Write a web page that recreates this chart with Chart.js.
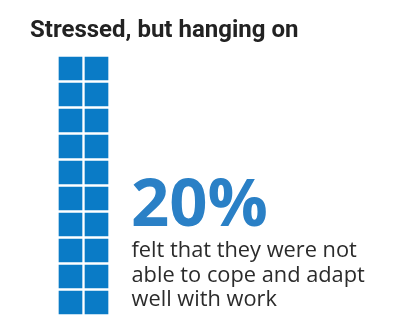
<!DOCTYPE html>
<html>
<head>
<meta charset="utf-8">
<script src="https://cdn.jsdelivr.net/npm/chart.js@4/dist/chart.umd.min.js"></script>
<style>
  html, body { margin: 0; padding: 0; background: #fff; }
  #wrap { position: relative; width: 416px; height: 328px; overflow: hidden; }
  #c { position: absolute; left: 0; top: 0; }
  .t { position: absolute; white-space: nowrap; }
  #title { left: 30px; top: 16.5px; font-family: Roboto, sans-serif; font-size: 24px; font-weight: 700; color: #222; line-height: 1; }
  #pct { left: 131px; top: 167px; font-family: "Open Sans", sans-serif; font-size: 67px; font-weight: 700; color: #2a80c6; line-height: 1; }
  #desc { left: 131.5px; top: 237.2px; font-family: "Open Sans", sans-serif; font-size: 21.8px; color: #2b2b2b; line-height: 24.5px; }
</style>
</head>
<body>
<div id="wrap">
  <canvas id="c" width="416" height="328"></canvas>
  <div class="t" id="title">Stressed, but hanging on</div>
  <div class="t" id="pct">20%</div>
  <div class="t" id="desc">felt that they were not<br>able to cope and adapt<br>well with work</div>
</div>
<script>
// Waffle: 2 columns x 10 rows, each square = 1%
const columns = ['Column 1', 'Column 2'];
const rowLabels = ['1','2','3','4','5','6','7','8','9','10'];
const squareRows = [
  [1, 1], [1, 1], [1, 1], [1, 1], [1, 1],
  [1, 1], [1, 1], [1, 1], [1, 1], [1, 1]
];
const percentValue = '20%';

const datasets = squareRows.map((row, i) => ({
  label: rowLabels[i],
  data: row,
  backgroundColor: '#0a7bc6',
  borderColor: '#ffffff',
  borderWidth: 1.5,
  borderSkipped: false,
  categoryPercentage: 1,
  barPercentage: 1
}));

new Chart(document.getElementById('c'), {
  type: 'bar',
  data: { labels: columns, datasets },
  options: {
    responsive: false,
    animation: false,
    layout: { padding: { left: 57.5, right: 306.5, top: 55.5, bottom: 12.5 } },
    plugins: { legend: { display: false }, tooltip: { enabled: false }, title: { display: false } },
    scales: {
      x: { stacked: true, display: false },
      y: { stacked: true, display: false, min: 0, max: 10 }
    }
  }
});
</script>
</body>
</html>
